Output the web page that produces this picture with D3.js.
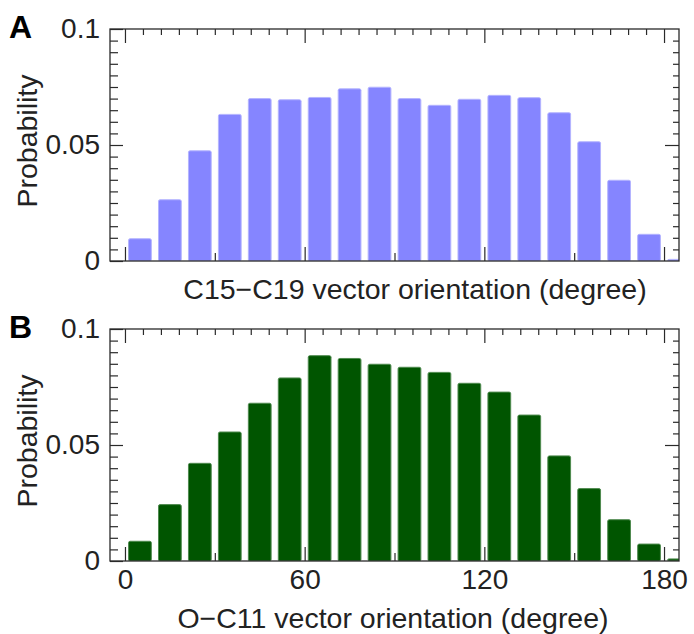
<!DOCTYPE html>
<html>
<head>
<meta charset="utf-8">
<script src="https://cdn.jsdelivr.net/npm/d3@7"></script>
<style>
  body { margin: 0; background: #fff; }
  text { font-family: "Liberation Sans", Arial, sans-serif; fill: #222; }
</style>
</head>
<body>
<div id="chart"></div>
<script>
// bin centres (degree), 10 degree bins; the last one sits past 180 and is clipped
var binCenters = [5, 15, 25, 35, 45, 55, 65, 75, 85, 95, 105, 115, 125, 135, 145, 155, 165, 175, 185];

// panel A : C15-C19 vector orientation
var probC15C19 = [0.0096, 0.0264, 0.0475, 0.0632, 0.0700, 0.0695, 0.0705, 0.0742, 0.0749, 0.0700,
                  0.0671, 0.0697, 0.0714, 0.0704, 0.0639, 0.0514, 0.0348, 0.0115, 0.0007];

// panel B : O-C11 vector orientation
var probOC11 = [0.0085, 0.0243, 0.0421, 0.0556, 0.0680, 0.0789, 0.0885, 0.0873, 0.0848, 0.0835,
                0.0813, 0.0766, 0.0728, 0.0629, 0.0453, 0.0312, 0.0178, 0.0073, 0.0009];

var xMajorTicks = [0, 60, 120, 180];
var xBottomMinor = [30, 90, 150];
var xTopMinor = d3.range(0, 181, 6).filter(function (d) { return d % 60 !== 0; });
var yMajorTicks = [0, 0.05, 0.1];
var yMinorTicks = d3.range(1, 20).map(function (i) { return i * 0.005; }).filter(function (d, i) { return i !== 9; });

var panels = [
  { letter: 'A', values: probC15C19, fill: '#8585ff', stroke: '#b4b4ff',
    xLabel: 'C15\u2212C19 vector orientation (degree)', xLabelX: 415, showXLabels: false },
  { letter: 'B', values: probOC11, fill: '#005500', stroke: '#4f8a4f',
    xLabel: 'O\u2212C11 vector orientation (degree)', xLabelX: 393, showXLabels: true }
];

var width = 694,
    height = 634,
    panelHeight = 300,
    frame = { left: 110, right: 679, top: 29, bottom: 261 };

var svg = d3.select('#chart')
  .append('svg')
  .attr('width', width)
  .attr('height', height);

var x = d3.scaleLinear().domain([-5, 185]).range([frame.left, frame.right]);
var y = d3.scaleLinear().domain([0, 0.1]).range([frame.bottom, frame.top]);
var barWidth = x(7.6) - x(0);

svg.append('defs').append('clipPath')
  .attr('id', 'plot-clip')
  .append('rect')
  .attr('x', frame.left)
  .attr('y', frame.top - 2)
  .attr('width', frame.right - frame.left)
  .attr('height', frame.bottom - frame.top + 2);

function tickStyle(g) {
  g.select('.domain').remove();
  g.selectAll('.tick line').attr('stroke', '#2a2a2a').attr('stroke-width', 1.2);
  g.selectAll('.tick text').attr('font-size', '28px').attr('fill', '#222');
}

panels.forEach(function (p, k) {
  var g = svg.append('g').attr('transform', 'translate(0,' + (k * panelHeight) + ')');

  // bars
  g.append('g').attr('clip-path', 'url(#plot-clip)')
    .selectAll('rect').data(p.values)
    .enter().append('rect')
    .attr('x', function (d, i) { return x(binCenters[i]) - barWidth / 2; })
    .attr('y', function (d) { return y(d); })
    .attr('width', barWidth)
    .attr('height', function (d) { return frame.bottom - y(d); })
    .attr('rx', 1.5)
    .attr('fill', p.fill)
    .attr('stroke', p.stroke)
    .attr('stroke-width', 1);

  // bottom ticks
  g.append('g').attr('transform', 'translate(0,' + frame.bottom + ')')
    .call(d3.axisBottom(x).tickValues(xMajorTicks).tickSize(-14).tickPadding(8)
      .tickFormat(p.showXLabels ? d3.format('d') : function () { return ''; }))
    .call(tickStyle);
  g.append('g').attr('transform', 'translate(0,' + frame.bottom + ')')
    .call(d3.axisBottom(x).tickValues(xBottomMinor).tickSize(-8).tickFormat(''))
    .call(tickStyle);

  // top ticks
  g.append('g').attr('transform', 'translate(0,' + frame.top + ')')
    .call(d3.axisTop(x).tickValues(xMajorTicks).tickSize(-14).tickFormat(''))
    .call(tickStyle);
  g.append('g').attr('transform', 'translate(0,' + frame.top + ')')
    .call(d3.axisTop(x).tickValues(xTopMinor).tickSize(-6).tickFormat(''))
    .call(tickStyle);

  // left ticks with labels
  g.append('g').attr('transform', 'translate(' + frame.left + ',0)')
    .call(d3.axisLeft(y).tickValues(yMajorTicks).tickSize(-13).tickPadding(10)
      .tickFormat(function (d) { return d === 0 ? '0' : String(d); }))
    .call(tickStyle);
  g.append('g').attr('transform', 'translate(' + frame.left + ',0)')
    .call(d3.axisLeft(y).tickValues(yMinorTicks).tickSize(-8).tickFormat(''))
    .call(tickStyle);

  // right ticks
  g.append('g').attr('transform', 'translate(' + frame.right + ',0)')
    .call(d3.axisRight(y).tickValues([0.05]).tickSize(-14).tickFormat(''))
    .call(tickStyle);
  g.append('g').attr('transform', 'translate(' + frame.right + ',0)')
    .call(d3.axisRight(y).tickValues(yMinorTicks).tickSize(-6).tickFormat(''))
    .call(tickStyle);

  // frame
  g.append('rect')
    .attr('x', frame.left)
    .attr('y', frame.top)
    .attr('width', frame.right - frame.left)
    .attr('height', frame.bottom - frame.top)
    .attr('fill', 'none')
    .attr('stroke', '#2a2a2a')
    .attr('stroke-width', 1.3);

  // x title
  g.append('text')
    .attr('x', p.xLabelX)
    .attr('y', p.showXLabels ? 328 : 299)
    .attr('text-anchor', 'middle')
    .attr('font-size', '28.5px')
    .text(p.xLabel);

  // y title
  g.append('text')
    .attr('transform', 'translate(37,141) rotate(-90)')
    .attr('text-anchor', 'middle')
    .attr('font-size', '28.5px')
    .text('Probability');

  // panel letter
  g.append('text')
    .attr('x', 9)
    .attr('y', 38)
    .attr('font-size', '32px')
    .attr('font-weight', 'bold')
    .style('fill', '#000')
    .text(p.letter);
});
</script>
</body>
</html>
